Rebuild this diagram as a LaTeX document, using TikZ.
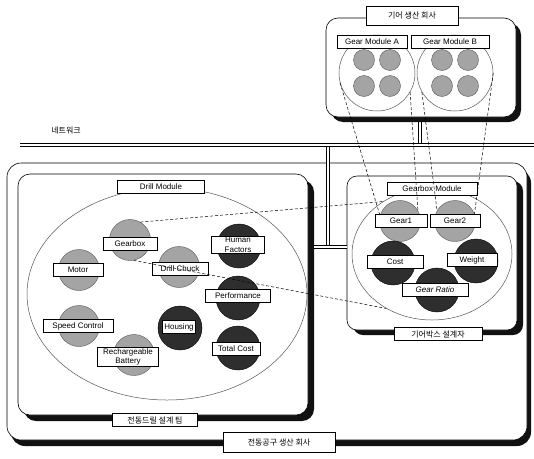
\documentclass[tikz,border=0pt]{standalone}
\usepackage{fontspec}
\setmainfont{Liberation Sans}
\newfontfamily\krfont{Noto Sans CJK KR}
\usetikzlibrary{positioning,calc,shapes.geometric}
\definecolor{litegear}{HTML}{a4a4a4}
\definecolor{darkgear}{HTML}{2e2e2e}
\definecolor{rim}{HTML}{555555}
\definecolor{shadowink}{HTML}{111111}

\begin{document}
\begin{tikzpicture}[x=1pt, y=-1pt,
  every node/.style={font=\fontsize{8}{9.5}\selectfont},
  tag/.style={
    draw, fill=white, line width=0.5pt,
    inner xsep=2pt, inner ysep=1pt, minimum height=13pt, align=center
  },
  kortag/.style={tag, font=\krfont\fontsize{8}{9.5}\selectfont},
  lite/.style={circle, draw=rim, fill=litegear, minimum size=41pt, inner sep=0pt},
  dark/.style={circle, draw=black, fill=darkgear, minimum size=44pt, inner sep=0pt},
  pin/.style={circle, draw=rim, fill=litegear, minimum size=21pt, inner sep=0pt},
  module/.style={ellipse, draw=rim, line width=0.5pt, inner sep=0pt},
  org/.style={draw, fill=white, rounded corners=12pt, line width=0.6pt},
  orgshade/.style={fill=shadowink, rounded corners=12pt},
  netline/.style={line width=0.6pt, double, double distance=2.6pt},
  projline/.style={line width=0.5pt, dash pattern=on 3pt off 2pt}
]
  \useasboundingbox (0,0) rectangle (534,458);

  % Network
  \node[font=\krfont\fontsize{8}{9.5}\selectfont] (netlbl) at (66,131) {네트워크};
  \coordinate (netL) at (20,145);
  \coordinate (netR) at (534,145);
  \coordinate (gtap) at (420,145);
  \coordinate (gfoot) at (420,100);
  \draw[netline] (gfoot) -- (gtap);

  % Gear maker
  \path[orgshade] (331,23) rectangle (521,122);
  \node[org, minimum width=190pt, minimum height=99pt] (gearco) at (421,67.5) {};
  \node[module, minimum size=76pt] (modA) at (377,73) {};
  \node[module, minimum size=76pt] (modB) at (455,73) {};
  \foreach \m in {A,B}
    \foreach \dx/\dy [count=\i] in {-13/-13, 13/-13, -13/13, 13/13}
      \node[pin] (g\m\i) at ($(mod\m)+(\dx,\dy)$) {};
  \node[tag, minimum width=70pt] (modAtag) at (372,42) {Gear Module A};
  \node[tag, minimum width=78pt] (modBtag) at (450,42) {Gear Module B};
  \node[kortag, minimum width=92pt, minimum height=19pt] (gearcotag) at (412,16) {기어 생산 회사};

  % Power tool maker
  \path[orgshade, rounded corners=14pt] (11,169) rectangle (531,446);
  \node[org, rounded corners=14pt, minimum width=520pt, minimum height=277pt] (toolco) at (267,301.5) {};
  \draw[netline] (netL) -- (netR);
  \coordinate (ptap) at (328,146.5);
  \coordinate (hub) at (328,247);
  \draw[netline] (ptap) -- (hub);

  \path[orgshade] (24,180) rectangle (314,421);
  \node[org, minimum width=290pt, minimum height=241pt] (drillteam) at (163,294.5) {};
  \path[orgshade, rounded corners=10pt] (353,181) rectangle (523,335);
  \node[org, rounded corners=10pt, minimum width=170pt, minimum height=154pt] (gearteam) at (432,253) {};
  \draw[netline] ([xshift=6pt]drillteam.east |- hub) -- (gearteam.west |- hub);

  % Drill module
  \node[module, minimum width=280pt, minimum height=212pt] (drillmod) at (167,294) {};
  \node[tag, minimum width=87pt] (drillmodtag) at (161,187) {Drill Module};

  \node[lite] (gboxc)   at (130,240) {};
  \node[lite] (motorc)  at (79,270)  {};
  \node[lite] (chuckc)  at (179,267) {};
  \node[dark] (humanc)  at (239,246) {};
  \node[dark] (perfc)   at (238,298) {};
  \node[lite] (speedc)  at (79,326)  {};
  \node[dark] (housec)  at (180,328) {};
  \node[lite] (battc)   at (134,355) {};
  \node[dark] (totalc)  at (238,348) {};

  \node[tag, minimum width=54pt] (gbox)  at (130,244) {Gearbox};
  \node[tag, minimum width=50pt] (motor) at (78,270)  {Motor};
  \node[tag, minimum width=56pt] (chuck) at (180,269) {Drill Chuck};
  \node[tag, minimum width=53pt] (human) at (238,245) {Human\\Factors};
  \node[tag, minimum width=65pt] (perf)  at (238,296) {Performance};
  \node[tag, minimum width=70pt] (speed) at (78,326)  {Speed Control};
  \node[tag, minimum width=33pt] (house) at (179,327) {Housing};
  \node[tag, minimum width=61pt] (batt)  at (128,357) {Rechargeable\\Battery};
  \node[tag, minimum width=48pt] (total) at (236,349) {Total Cost};

  % Gearbox module
  \node[module, minimum width=160pt, minimum height=132pt] (gmod) at (432,254) {};
  \node[tag, minimum width=90pt] (gmodtag) at (432,189) {Gearbox Module};

  \node[lite] (gear1c)  at (400,221) {};
  \node[lite] (gear2c)  at (455,221) {};
  \node[dark] (costc)   at (393,263) {};
  \node[dark] (weightc) at (476,261) {};
  \node[dark] (ratioc)  at (437,290) {};

  \node[tag, minimum width=52pt] (gear1)  at (401,221) {Gear1};
  \node[tag, minimum width=50pt] (gear2)  at (455,221) {Gear2};
  \node[tag, minimum width=56pt] (cost)   at (395,262) {Cost};
  \node[tag, minimum width=50pt] (weight) at (472,260) {Weight};
  \node[tag, minimum width=66pt, font=\fontsize{8}{9.5}\selectfont\itshape] (ratio) at (435,290) {Gear Ratio};

  % Team and company tags
  \node[kortag, minimum width=85pt] (drillteamtag) at (155,420) {전동드릴 설계 팀};
  \node[kortag, minimum width=88pt] (gearteamtag)  at (438,334) {기어박스 설계자};
  \node[kortag, minimum width=112pt, minimum height=20pt] (toolcotag) at (279,442) {전동공구 생산 회사};

  % Projections between modules
  \draw[projline] (modA.195) -- (gear1c.165);
  \draw[projline] (modA.330) -- (gear1c.30);
  \draw[projline] (modB.210) -- (gear2c.150);
  \draw[projline] (modB.0)   -- (gear2c.20);
  \draw[projline] (gboxc.60)  -- (gmod.133);
  \draw[projline] (gboxc.280) -- (gmod.230);

\end{tikzpicture}
\end{document}
